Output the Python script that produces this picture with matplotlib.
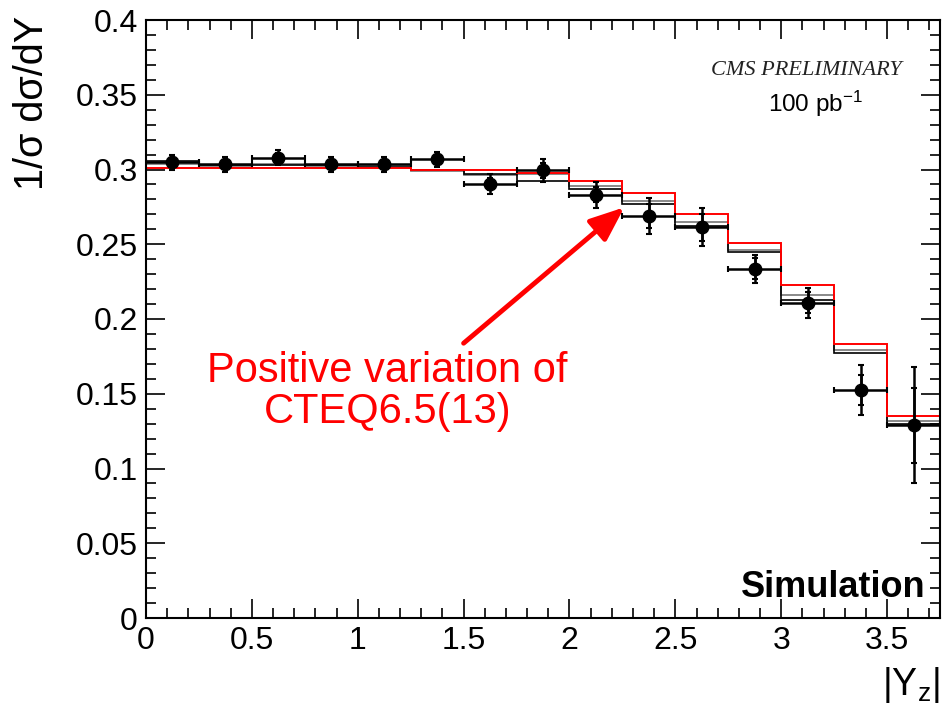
import numpy as np
import matplotlib
matplotlib.use("Agg")
import matplotlib.pyplot as plt
from matplotlib.ticker import MultipleLocator

plt.rcParams['font.family'] = ['Liberation Sans', 'DejaVu Sans']
plt.rcParams['mathtext.fontset'] = 'custom'
plt.rcParams['mathtext.rm'] = 'Liberation Sans'
plt.rcParams['mathtext.it'] = 'Liberation Sans:italic'
plt.rcParams['mathtext.bf'] = 'Liberation Sans:bold'

# ---- data ----
bin_edges = [0.0, 0.25, 0.5, 0.75, 1.0, 1.25, 1.5, 1.75, 2.0, 2.25, 2.5, 2.75, 3.0, 3.25, 3.5, 3.75]
data_y = [0.305, 0.3035, 0.308, 0.3035, 0.3035, 0.307, 0.290, 0.2995, 0.283, 0.269, 0.2615, 0.2335, 0.211, 0.1525, 0.129]
err_total = [0.005, 0.005, 0.005, 0.005, 0.005, 0.005, 0.0067, 0.0077, 0.0085, 0.012, 0.013, 0.0095, 0.010, 0.017, 0.039]
err_stat = [0.003, 0.003, 0.003, 0.003, 0.003, 0.003, 0.004, 0.005, 0.005, 0.008, 0.009, 0.007, 0.007, 0.010, 0.025]
hist_red = [0.301, 0.301, 0.301, 0.301, 0.301, 0.300, 0.300, 0.2975, 0.292, 0.284, 0.270, 0.251, 0.2225, 0.183, 0.135]
hist_black = [0.306, 0.303, 0.303, 0.303, 0.302, 0.300, 0.297, 0.292, 0.287, 0.277, 0.262, 0.245, 0.213, 0.177, 0.130]
hist_gray = [0.304, 0.302, 0.304, 0.302, 0.303, 0.299, 0.296, 0.297, 0.289, 0.279, 0.265, 0.246, 0.216, 0.179, 0.132]

edges = np.array(bin_edges)
centers = 0.5 * (edges[:-1] + edges[1:])
halfw = 0.5 * np.diff(edges)

fig = plt.figure(figsize=(9.42, 7.06), dpi=100)
ax = fig.add_axes([146/942, 1-618/706, 794/942, (618-20)/706])

ax.stairs(hist_gray, edges, color='#808080', lw=1.3, baseline=None)
ax.stairs(hist_black, edges, color='black', lw=1.2, baseline=None)
ax.stairs(hist_red, edges, color='red', lw=1.4, baseline=None)

ax.errorbar(centers, data_y, xerr=halfw, yerr=err_total, fmt='o', color='black',
            ms=9, lw=1.8, capsize=2.5, capthick=1.5, zorder=5)
ax.errorbar(centers, data_y, yerr=err_stat, fmt='none', ecolor='black',
            lw=1.8, capsize=2.5, capthick=1.5, zorder=5)

ax.set_xlim(0, 3.75)
ax.set_ylim(0, 0.4)
ax.xaxis.set_major_locator(MultipleLocator(0.5))
ax.xaxis.set_minor_locator(MultipleLocator(0.1))
ax.yaxis.set_major_locator(MultipleLocator(0.05))
ax.yaxis.set_minor_locator(MultipleLocator(0.01))
ax.set_xticks([0, 0.5, 1, 1.5, 2, 2.5, 3, 3.5])
ax.set_xticklabels(['0', '0.5', '1', '1.5', '2', '2.5', '3', '3.5'])
ax.set_yticks([0, 0.05, 0.1, 0.15, 0.2, 0.25, 0.3, 0.35, 0.4])
ax.set_yticklabels(['0', '0.05', '0.1', '0.15', '0.2', '0.25', '0.3', '0.35', '0.4'])
ax.tick_params(which='both', direction='in', top=True, right=True, labelsize=23, width=1.2)
ax.tick_params(which='major', length=14)
ax.tick_params(which='minor', length=7)
ax.tick_params(axis='y', pad=6)
ax.tick_params(axis='x', pad=6)
for s in ax.spines.values():
    s.set_linewidth(1.5)

fig.text(32/942, 1-16/706, '1/σ dσ/dY', rotation=90, ha='center', va='top', fontsize=28.5)
fig.text(940/942, 1-705/706, r'$|\mathrm{Y}_{\mathrm{z}}|$', ha='right', va='bottom', fontsize=27)

ax.text(0.832, 0.915, 'CMS PRELIMINARY', transform=ax.transAxes, ha='center', va='center',
        fontsize=16, family='Liberation Serif', style='italic', color='#222222')
ax.text(0.843, 0.86, r'100 pb$^{-1}$', transform=ax.transAxes, ha='center', va='center', fontsize=17.5)
ax.text(0.982, 0.035, 'Simulation', transform=ax.transAxes, ha='right', va='baseline',
        fontsize=26, fontweight='bold')

ax.annotate('', xy=(2.259, 0.2747), xytext=(1.5, 0.1838),
            arrowprops=dict(arrowstyle='-|>,head_length=2.1,head_width=0.85', color='red', lw=3.5,
                            shrinkA=0, shrinkB=0))
ax.text(1.1415, 0.1578, 'Positive variation of', color='red', fontsize=30,
        ha='center', va='baseline')
ax.text(1.1415, 0.1303, 'CTEQ6.5(13)', color='red', fontsize=30,
        ha='center', va='baseline')

fig.savefig('out.png', dpi=100)
